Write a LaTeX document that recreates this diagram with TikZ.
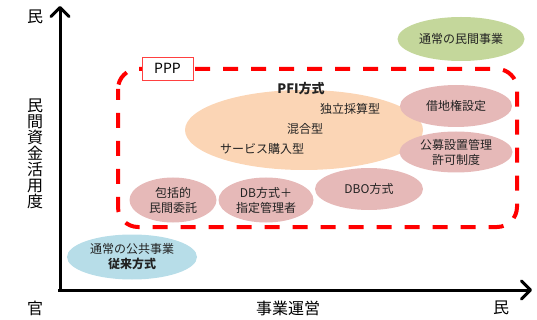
\documentclass[tikz,border=0pt]{standalone}
\usepackage{fontspec}
\setmainfont{Noto Sans CJK JP}
\usetikzlibrary{shapes.geometric,arrows.meta}
\definecolor{peach}{HTML}{FBD5B5}
\definecolor{pinkish}{HTML}{E6B9B8}
\definecolor{greenish}{HTML}{C4D79B}
\definecolor{bluish}{HTML}{B7DDE8}
\definecolor{txt}{HTML}{222222}
\tikzset{
  oval/.style={ellipse, inner sep=0pt, text=txt, font=\fontsize{12}{15}\selectfont, align=center},
  pinkoval/.style={oval, fill=pinkish},
  axislabel/.style={font=\fontsize{16}{16}\selectfont, text=black, inner sep=0pt},
  axisline/.style={line width=3pt, -{Straight Barb[length=9pt,width=18pt,line width=3pt,round]}},
  lbl/.style={text=txt, font=\fontsize{12}{14}\selectfont, inner sep=0pt},
}
\begin{document}
\begin{tikzpicture}[x=1pt,y=-1pt]
\useasboundingbox (0,0) rectangle (537,320);
% axes
\coordinate (o) at (60,290);
\coordinate (ytop) at (60,6);
\coordinate (xorig) at (58,290);
\coordinate (xend) at (532,290);
\draw[axisline] (o) -- (ytop);
\draw[axisline] (xorig) -- (xend);
\node[axislabel] (mintop) at (35,17) {民};
\node[axislabel, align=center, font=\fontsize{16}{16}\selectfont] (yl) at (35,154) {民\\間\\資\\金\\活\\用\\度};
\node[axislabel] (kan) at (35,308) {官};
\node[axislabel] (xl) at (288,308) {事業運営};
\node[axislabel] (minr) at (501,308) {民};
% dashed PPP region
\draw[red, line width=4pt, dash pattern=on 15pt off 13pt, dash phase=4pt, rounded corners=20pt] (118,69) rectangle (517,227);
\node[draw=red!75, fill=white, line width=0.8pt, minimum width=51pt, minimum height=23pt, inner sep=0pt, font=\fontsize{14}{14}\selectfont] (ppp) at (167.5,68.5) {PPP};
% green
\node[oval, fill=greenish, minimum width=127pt, minimum height=44pt] (minkan) at (461,39) {通常の民間事業};
% PFI
\node[ellipse, fill=peach, minimum width=238pt, minimum height=80pt, inner sep=0pt] (pfi) at (304,130) {};
\node[lbl, font=\bfseries\fontsize{13}{14}\selectfont] (pfit) at (301,89) {PFI方式};
\node[lbl] (dokuritsu) at (350,109) {独立採算型};
\node[lbl] (kongo) at (305,129) {混合型};
\node[lbl] (service) at (262,149) {サービス購入型};
% pink ovals
\node[pinkoval, minimum width=112pt, minimum height=42pt] (shakuchi) at (456,106) {借地権設定};
\node[pinkoval, minimum width=113pt, minimum height=41pt] (koubo) at (456,152) {公募設置管理\\許可制度};
\node[pinkoval, minimum width=108pt, minimum height=42pt] (dbo) at (369,189) {DBO方式};
\node[pinkoval, minimum width=87pt, minimum height=45pt] (houkatsu) at (173,200) {包括的\\民間委託};
\node[pinkoval, minimum width=95pt, minimum height=45pt] (db) at (266,200) {DB方式＋\\指定管理者};
% blue
\node[oval, fill=bluish, minimum width=130pt, minimum height=45pt] (koukyou) at (132,257) {通常の公共事業\\{\bfseries 従来方式}};
\end{tikzpicture}
\end{document}
